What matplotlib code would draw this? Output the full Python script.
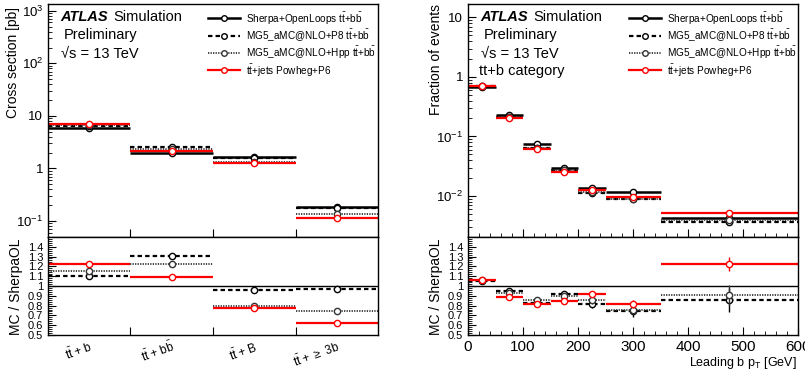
"""
ATLAS-style tt+b comparison: cross sections per category and leading b pT fractions,
each with an MC / SherpaOL ratio panel underneath.
"""
import math
import matplotlib
matplotlib.use('Agg')
import matplotlib.pyplot as plt
from matplotlib.ticker import FixedLocator, FuncFormatter, MultipleLocator, LogLocator, NullFormatter
from matplotlib.lines import Line2D

plt.rcParams['font.family'] = ['Liberation Sans', 'DejaVu Sans']
plt.rcParams['mathtext.fontset'] = 'custom'
plt.rcParams['mathtext.rm'] = 'Liberation Sans'
plt.rcParams['mathtext.it'] = 'Liberation Sans:italic'
plt.rcParams['mathtext.bf'] = 'Liberation Sans:bold'
plt.rcParams['mathtext.default'] = 'regular'

# ---- left panel: cross section per category ----
categories = [r'$t\bar{t}$ + b', r'$t\bar{t}$ + $b\bar{b}$', r'$t\bar{t}$ + B', r'$t\bar{t}$ + $\geq$ 3b']
xs_sherpa = [5.8, 1.95, 1.65, 0.183]
xs_p8 = [6.4, 2.55, 1.58, 0.177]
xs_hpp = [6.7, 2.39, 1.32, 0.135]
xs_powheg = [7.1, 2.13, 1.28, 0.113]
xs_ratio_p8 = [1.10, 1.305, 0.955, 0.965]
xs_ratio_hpp = [1.155, 1.225, 0.80, 0.74]
xs_ratio_powheg = [1.225, 1.09, 0.775, 0.62]

# ---- right panel: leading b pT (tt+b category) ----
pt_edges = [0, 50, 100, 150, 200, 250, 350, 600]
fr_sherpa = [0.67, 0.225, 0.076, 0.030, 0.0135, 0.0118, 0.0043]
fr_p8 = [0.707, 0.214, 0.063, 0.0275, 0.0111, 0.0088, 0.0037]
fr_hpp = [0.71, 0.209, 0.065, 0.027, 0.0116, 0.0090, 0.0039]
fr_powheg = [0.714, 0.200, 0.062, 0.0255, 0.0124, 0.0097, 0.0052]
fr_ratio_p8 = [1.055, 0.95, 0.83, 0.915, 0.82, 0.745, 0.855]
fr_ratio_hpp = [1.06, 0.93, 0.86, 0.90, 0.86, 0.76, 0.91]
fr_ratio_powheg = [1.065, 0.89, 0.82, 0.85, 0.92, 0.82, 1.22]
fr_err_p8 = [0.01, 0.01, 0.02, 0.03, 0.04, 0.06, 0.12]
fr_err_hpp = [0.01, 0.01, 0.02, 0.03, 0.04, 0.05, 0.10]
fr_err_powheg = [0.01, 0.01, 0.01, 0.01, 0.02, 0.04, 0.07]

labels = [r'Sherpa+OpenLoops $t\bar{t}$+$b\bar{b}$',
          r'MG5_aMC@NLO+P8 $t\bar{t}$+$b\bar{b}$',
          r'MG5_aMC@NLO+Hpp $t\bar{t}$+$b\bar{b}$',
          r'$t\bar{t}$+jets Powheg+P6']

RED = '#ff0000'
styles = {
    'sherpa': dict(color='black', ls='-', lw=1.8),
    'p8': dict(color='black', ls=(0, (2.0, 1.4)), lw=1.6),
    'hpp': dict(color='#333333', ls=(0, (0.7, 0.7)), lw=1.3),
    'powheg': dict(color=RED, ls='-', lw=1.6),
}


def draw_hist(ax, edges, values, style, yerr=None, mfc='white'):
    lo = edges[:-1]
    hi = edges[1:]
    centers = [(a + b) / 2 for a, b in zip(lo, hi)]
    ax.hlines(values, lo, hi, colors=style['color'], linestyles=[style['ls']], lw=style['lw'])
    if yerr is not None:
        ax.errorbar(centers, values, yerr=yerr, fmt='none', ecolor=style['color'], elinewidth=1.0)
    ax.plot(centers, values, 'o', ms=4.5, mfc=mfc, mec=style['color'], mew=1.0, ls='none')


def style_axes(ax):
    ax.tick_params(direction='in', which='both', top=False, right=False, labelsize=9.5)
    ax.tick_params(which='major', length=6)
    ax.tick_params(which='minor', length=3)
    for s in ax.spines.values():
        s.set_linewidth(1.0)


def add_legend(ax):
    handles = []
    for key in ['sherpa', 'p8', 'hpp', 'powheg']:
        st = styles[key]
        handles.append(Line2D([], [], color=st['color'], ls=st['ls'], lw=st['lw'],
                              marker='o', ms=4, mfc='white', mec=st['color']))
    ax.legend(handles, labels, loc='upper left', bbox_to_anchor=(0.465, 1.005), frameon=False,
              fontsize=7.2, handlelength=3.2, handletextpad=0.6, labelspacing=0.13, borderaxespad=0.3)


def add_atlas(ax, extra=None):
    ax.text(0.036, 0.944, 'ATLAS', transform=ax.transAxes, fontsize=10.5, fontweight='bold',
            fontstyle='italic', va='center')
    ax.text(0.198, 0.944, 'Simulation', transform=ax.transAxes, fontsize=10.5, va='center')
    ax.text(0.049, 0.868, 'Preliminary', transform=ax.transAxes, fontsize=10.5, va='center')
    ax.text(0.040, 0.787, '√s = 13 TeV', transform=ax.transAxes, fontsize=10.5, va='center')
    if extra:
        ax.text(0.033, 0.714, extra, transform=ax.transAxes, fontsize=10.5, va='center')


def log_label(v, pos):
    if abs(v - 1) < 1e-9:
        return '1'
    if abs(v - 10) < 1e-6:
        return '10'
    e = int(round(math.log10(v)))
    return r'$10^{%d}$' % e


def ratio_label(v, pos):
    return f'{round(v, 1):g}'


fig = plt.figure(figsize=(8.05, 3.76), dpi=100)
ax1 = fig.add_axes([0.0596, 0.370, 0.41, 0.619])
ax1r = fig.add_axes([0.0596, 0.109, 0.41, 0.261])
ax2 = fig.add_axes([0.5814, 0.370, 0.41, 0.619])
ax2r = fig.add_axes([0.5814, 0.109, 0.41, 0.261])

# ---------- left upper ----------
cat_edges = list(range(len(categories) + 1))
cat_centers = [i + 0.5 for i in range(len(categories))]
draw_hist(ax1, cat_edges, xs_sherpa, styles['sherpa'])
draw_hist(ax1, cat_edges, xs_p8, styles['p8'])
draw_hist(ax1, cat_edges, xs_hpp, styles['hpp'])
draw_hist(ax1, cat_edges, xs_powheg, styles['powheg'])
ax1.set_yscale('log')
ax1.set_ylim(0.05, 1340)
ax1.set_xlim(0, len(categories))
ax1.yaxis.set_major_locator(FixedLocator([0.1, 1, 10, 100, 1000]))
ax1.yaxis.set_major_formatter(FuncFormatter(log_label))
ax1.yaxis.set_minor_locator(LogLocator(base=10, subs=range(2, 10), numticks=20))
ax1.yaxis.set_minor_formatter(NullFormatter())
ax1.set_xticks(cat_edges[1:-1])
ax1.set_xticklabels([])
ax1.set_ylabel('Cross section [pb]', fontsize=10)
ax1.yaxis.set_label_coords(-0.085, 0.75)
style_axes(ax1)
add_atlas(ax1)
add_legend(ax1)

# ---------- left ratio ----------
ax1r.axhline(1.0, color='black', lw=1.0)
draw_hist(ax1r, cat_edges, xs_ratio_p8, styles['p8'])
draw_hist(ax1r, cat_edges, xs_ratio_hpp, styles['hpp'])
draw_hist(ax1r, cat_edges, xs_ratio_powheg, styles['powheg'])
ax1r.set_xlim(0, len(categories))
ax1r.set_ylim(0.5, 1.5)
ax1r.set_xticks(cat_edges[1:-1])
ax1r.set_xticklabels([])
ax1r.set_xticks(cat_centers, minor=True)
ax1r.set_xticklabels(categories, minor=True, rotation=20, ha='right', rotation_mode='anchor')
ax1r.yaxis.set_major_locator(FixedLocator([0.5, 0.6, 0.7, 0.8, 0.9, 1.0, 1.1, 1.2, 1.3, 1.4]))
ax1r.yaxis.set_major_formatter(FuncFormatter(ratio_label))
ax1r.yaxis.set_minor_locator(MultipleLocator(0.02))
ax1r.set_ylabel('MC / SherpaOL', fontsize=10)
ax1r.yaxis.set_label_coords(-0.075, 0.49)
style_axes(ax1r)
ax1r.tick_params(axis='y', labelsize=8)
ax1r.tick_params(axis='x', which='minor', length=0, labelsize=8.5, pad=3)

# ---------- right upper ----------
draw_hist(ax2, pt_edges, fr_sherpa, styles['sherpa'])
draw_hist(ax2, pt_edges, fr_p8, styles['p8'])
draw_hist(ax2, pt_edges, fr_hpp, styles['hpp'])
draw_hist(ax2, pt_edges, fr_powheg, styles['powheg'])
ax2.set_yscale('log')
ax2.set_ylim(0.00205, 16.7)
ax2.set_xlim(0, 600)
ax2.yaxis.set_major_locator(FixedLocator([0.01, 0.1, 1, 10]))
ax2.yaxis.set_major_formatter(FuncFormatter(log_label))
ax2.yaxis.set_minor_locator(LogLocator(base=10, subs=range(2, 10), numticks=20))
ax2.yaxis.set_minor_formatter(NullFormatter())
ax2.xaxis.set_major_locator(MultipleLocator(100))
ax2.xaxis.set_minor_locator(MultipleLocator(20))
ax2.set_xticklabels([])
ax2.set_ylabel('Fraction of events', fontsize=10)
ax2.yaxis.set_label_coords(-0.075, 0.76)
style_axes(ax2)
add_atlas(ax2, 'tt+b category')
add_legend(ax2)

# ---------- right ratio ----------
ax2r.axhline(1.0, color='black', lw=1.0)
draw_hist(ax2r, pt_edges, fr_ratio_p8, styles['p8'], yerr=fr_err_p8)
draw_hist(ax2r, pt_edges, fr_ratio_hpp, styles['hpp'], yerr=fr_err_hpp)
draw_hist(ax2r, pt_edges, fr_ratio_powheg, styles['powheg'], yerr=fr_err_powheg)
ax2r.set_xlim(0, 600)
ax2r.set_ylim(0.5, 1.5)
ax2r.xaxis.set_major_locator(MultipleLocator(100))
ax2r.xaxis.set_minor_locator(MultipleLocator(20))
ax2r.yaxis.set_major_locator(FixedLocator([0.5, 0.6, 0.7, 0.8, 0.9, 1.0, 1.1, 1.2, 1.3, 1.4]))
ax2r.yaxis.set_major_formatter(FuncFormatter(ratio_label))
ax2r.yaxis.set_minor_locator(MultipleLocator(0.02))
ax2r.set_ylabel('MC / SherpaOL', fontsize=10)
ax2r.yaxis.set_label_coords(-0.075, 0.49)
ax2r.set_xlabel(r'Leading b p$_{T}$ [GeV]', fontsize=9, loc='right')
ax2r.xaxis.set_label_coords(0.995, -0.2)
style_axes(ax2r)
ax2r.tick_params(axis='y', labelsize=8)
ax2r.tick_params(axis='x', labelsize=11)

fig.savefig('out.png', dpi=100)
